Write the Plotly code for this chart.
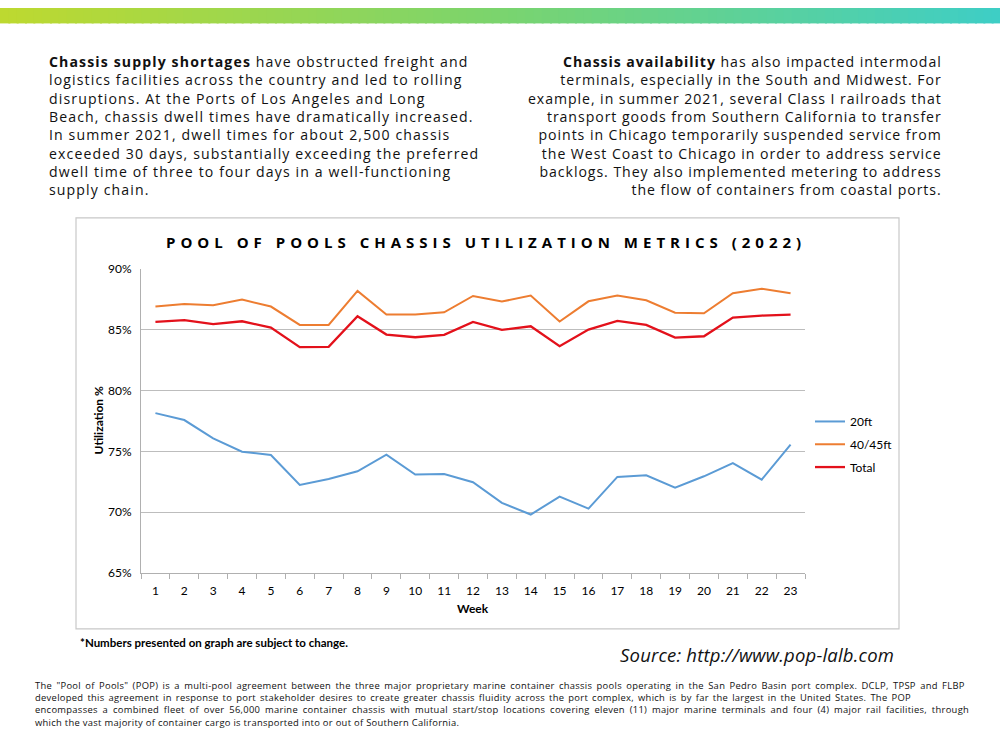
import plotly.graph_objects as go

weeks = [str(i) for i in range(1, 24)]
util_20ft = [78.14, 77.57, 76.07, 74.97, 74.70, 72.24, 72.73, 73.36, 74.73, 73.09, 73.14, 72.46,
             70.77, 69.81, 71.28, 70.30, 72.90, 73.03, 72.02, 72.95, 74.04, 72.68, 75.55]
util_40ft = [86.89, 87.10, 86.99, 87.46, 86.89, 85.38, 85.38, 88.17, 86.23, 86.23, 86.42, 87.76,
             87.30, 87.79, 85.66, 87.32, 87.79, 87.40, 86.39, 86.34, 87.98, 88.36, 87.98]
util_total = [85.63, 85.77, 85.44, 85.68, 85.16, 83.55, 83.58, 86.09, 84.59, 84.37, 84.56, 85.63,
              84.97, 85.27, 83.63, 85.00, 85.71, 85.38, 84.34, 84.45, 85.98, 86.15, 86.23]
series_names = ["20ft", "40/45ft", "Total"]
y_ticks = [0.65, 0.70, 0.75, 0.80, 0.85, 0.90]

left_lines = ["<b>Chassis supply shortages</b> have obstructed freight and",
              "logistics facilities across the country and led to rolling",
              "disruptions. At the Ports of Los Angeles and Long",
              "Beach, chassis dwell times have dramatically increased.",
              "In summer 2021, dwell times for about 2,500 chassis",
              "exceeded 30 days, substantially exceeding the preferred",
              "dwell time of three to four days in a well-functioning",
              "supply chain."]
right_lines = ["<b>Chassis availability</b> has also impacted intermodal",
               "terminals, especially in the South and Midwest. For",
               "example, in summer 2021, several Class I railroads that",
               "transport goods from Southern California to transfer",
               "points in Chicago temporarily suspended service from",
               "the West Coast to Chicago in order to address service",
               "backlogs. They also implemented metering to address",
               "the flow of containers from coastal ports."]
bottom_lines = ["The \"Pool of Pools\" (POP) is a multi-pool agreement between the three major proprietary marine container chassis pools operating in the San Pedro Basin port complex. DCLP, TPSP and FLBP",
                "developed this agreement in response to port stakeholder desires to create greater chassis fluidity across the port complex, which is by far the largest in the United States. The POP",
                "encompasses a combined fleet of over 56,000 marine container chassis with mutual start/stop locations covering eleven (11) major marine terminals and four (4) major rail facilities, through",
                "which the vast majority of container cargo is transported into or out of Southern California."]
bottom_word_spacing = [1.6, 1.3, 2.1, 0]

W, H = 1000, 750
# the capture shows the page slightly offset/compressed vertically; compensate
Y_OFF, Y_SCALE = 7.0, 0.985
def px(x): return x / W
def py(y): return 1 - ((y - Y_OFF) / Y_SCALE) / H

fig = go.Figure()
colors = ["#5b9bd5", "#ed7d31", "#e3111b"]
widths = [2, 2, 2.3]
for name, vals, c, w in zip(series_names, [util_20ft, util_40ft, util_total], colors, widths):
    fig.add_trace(go.Scatter(x=weeks, y=[v / 100 for v in vals], mode="lines", name=name,
                             line=dict(color=c, width=w), legendgroup=name, hoverinfo="skip"))

shapes = []
stops = [(0.0, (190, 217, 47)), (0.5, (122, 212, 110)), (1.0, (62, 206, 198))]
def grad(t):
    for (t0, c0), (t1, c1) in zip(stops[:-1], stops[1:]):
        if t <= t1:
            f = (t - t0) / (t1 - t0)
            return tuple(int(round(a + (b - a) * f)) for a, b in zip(c0, c1))
    return stops[-1][1]
N = 120
for i in range(N):
    r, g, b = grad((i + 0.5) / N)
    shapes.append(dict(type="rect", xref="paper", yref="paper",
                       x0=i / N, x1=(i + 1) / N + 0.002, y0=py(22.5), y1=1,
                       fillcolor=f"rgb({r},{g},{b})", line=dict(width=0), layer="below"))
shapes.append(dict(type="rect", xref="paper", yref="paper", x0=px(76), x1=px(899),
                   y0=py(631), y1=py(218), line=dict(color="#c8c8c8", width=1.2),
                   fillcolor="rgba(0,0,0,0)", layer="below"))

text_font = "Open Sans"
def spaced(lines, ls):
    return "<br>".join(f'<span style="letter-spacing:{ls}px">{ln}</span>' for ln in lines)

annotations = [
    dict(text=spaced(left_lines, 1.12), x=px(47), y=py(49.5), xanchor="left", yanchor="top",
         align="left", font=dict(family=text_font, size=14.1, color="#111")),
    dict(text=spaced(right_lines, 0.95), x=px(944), y=py(49.5), xanchor="right", yanchor="top",
         align="right", font=dict(family=text_font, size=14.1, color="#111")),
    dict(text="<br>".join(f'<span style="letter-spacing:0.3px;word-spacing:{ws}px">{ln}</span>'
                          for ln, ws in zip(bottom_lines, bottom_word_spacing)),
         x=px(33), y=py(679.5), xanchor="left", yanchor="top", align="left",
         font=dict(family=text_font, size=9.4, color="#111")),
    dict(text='<b><span style="letter-spacing:5.0px">POOL OF POOLS CHASSIS UTILIZATION METRICS (2022)</span></b>',
         x=px(486), y=py(242.5), xanchor="center", yanchor="middle",
         font=dict(family=text_font, size=15, color="#000")),
    dict(text="<b>Utilization %</b>", x=px(98), y=py(421.5), textangle=-90, xanchor="center",
         yanchor="middle", font=dict(family="Lato", size=12, color="#000")),
    dict(text="<b>Week</b>", x=px(473), y=py(610.5), xanchor="center", yanchor="middle",
         font=dict(family="Lato", size=12, color="#000")),
    dict(text="<b>*Numbers presented on graph are subject to change.</b>", x=px(78), y=py(645),
         xanchor="left", yanchor="middle", font=dict(family="Lato", size=11.5, color="#000")),
    dict(text='<i><span style="letter-spacing:0.2px">Source: http://www.pop-lalb.com</span></i>',
         x=px(618), y=py(657), xanchor="left", yanchor="middle",
         font=dict(family=text_font, size=18.5, color="#111")),
]
for a in annotations:
    a.update(xref="paper", yref="paper", showarrow=False)

fig.update_layout(
    width=W, height=H, margin=dict(l=0, r=0, t=0, b=0),
    paper_bgcolor="white", plot_bgcolor="white",
    shapes=shapes, annotations=annotations,
    showlegend=True, hovermode=False,
    legend=dict(x=px(810), y=py(408), xanchor="left", yanchor="top", bgcolor="rgba(0,0,0,0)",
                font=dict(family="Lato", size=12, color="#000"), tracegroupgap=3.8,
                itemwidth=30),
    xaxis=dict(domain=[px(141), px(805)], type="category", range=[-0.5, 22.5],
               showgrid=False, showline=True, linecolor="#b0b0b0", linewidth=1,
               ticks="outside", tickson="boundaries", ticklen=5, tickcolor="#b0b0b0",
               ticklabelstandoff=6,
               tickfont=dict(family="Lato", size=12, color="#000"), fixedrange=True),
    yaxis=dict(domain=[py(575), py(269)], range=[0.65, 0.90], tickvals=y_ticks,
               tickformat=".0%", showgrid=True, gridcolor="#bdbdbd", gridwidth=1,
               showline=True, linecolor="#b0b0b0", linewidth=1, zeroline=False,
               ticks="", ticklabelstandoff=6,
               tickfont=dict(family="Lato", size=12, color="#000"), fixedrange=True),
)

post = ("document.documentElement.style.margin='0';document.documentElement.style.padding='0';"
        "document.documentElement.style.overflow='hidden';"
        "document.body.style.margin='0';document.body.style.padding='0';"
        "document.body.style.overflow='hidden';"
        "var d=document.getElementsByClassName('plotly-graph-div')[0];"
        "if(d){d.style.position='fixed';d.style.left='0px';d.style.top='0px';}")
fig.write_html("out.html", post_script=post, config={"displayModeBar": False})
